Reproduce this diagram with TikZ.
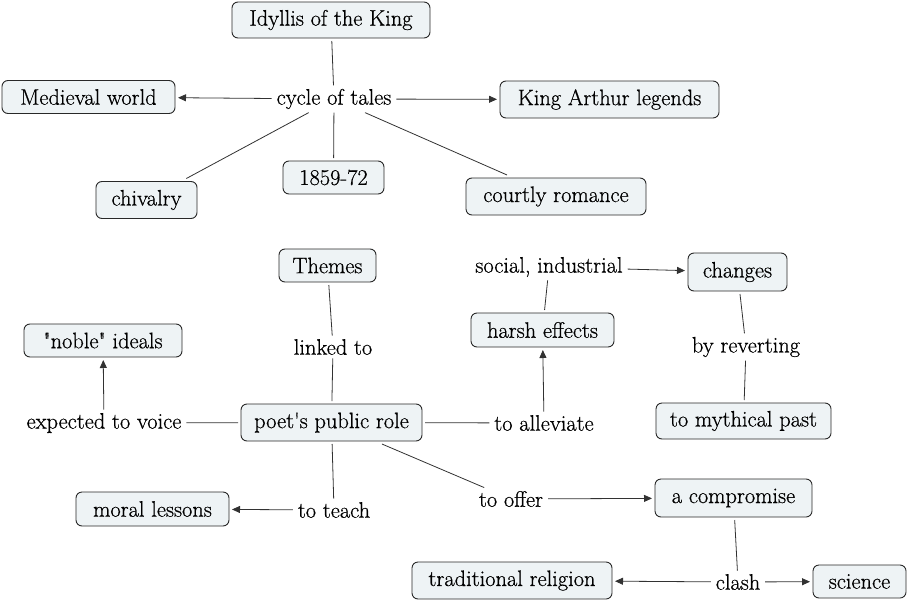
\documentclass[tikz,border=0pt]{standalone}
\usepackage{fontspec}
\setmainfont{Latin Modern Roman}[Ligatures=TeXOff, FakeBold=0.6]
\usetikzlibrary{arrows.meta}
\newcommand\myfs{\rmfamily\fontsize{22.4}{27}\selectfont}
\definecolor{boxfill}{RGB}{238,243,245}
\definecolor{boxline}{RGB}{40,40,40}
\definecolor{linkcol}{RGB}{50,50,50}
\tikzset{
  box/.style={draw=boxline, fill=boxfill, rounded corners=6pt, line width=0.9pt,
    minimum height=34pt, inner xsep=8pt, inner ysep=3pt, outer sep=3pt, font=\myfs},
  lbl/.style={inner xsep=3pt, inner ysep=1.5pt, outer sep=2pt, font=\myfs},
  conn/.style={draw=linkcol, line width=0.8pt},
  arr/.style={conn, -{Triangle[length=8pt,width=7pt]}}
}
\begin{document}
\begin{tikzpicture}[x=1pt,y=-1pt]
\useasboundingbox (0,0) rectangle (909,602);
% top cluster
\node[box, minimum width=198pt, minimum height=36pt] (idyll) at (331,20) {Idyllis of the King};
\node[lbl] (cycle) at (334,99) {cycle of tales};
\node[box, minimum width=173pt, minimum height=33pt] (medieval) at (88.5,97) {Medieval world};
\node[box, minimum width=219pt, minimum height=37pt] (arthur) at (609.5,99.5) {King Arthur legends};
\node[box, minimum width=101pt, minimum height=37pt] (chivalry) at (146.5,200) {chivalry};
\node[box, minimum width=101pt, minimum height=33pt] (year) at (333.5,177.5) {1859-72};
\node[box, minimum width=180pt, minimum height=37pt] (courtly) at (556,196.5) {courtly romance};
% lower cluster
\node[box, minimum width=97pt, minimum height=33pt] (themes) at (327.5,265.5) {Themes};
\node[lbl] (linked) at (333,347) {linked to};
\node[box, minimum width=181pt, minimum height=37pt] (poet) at (331.5,422.5) {poet's public role};
\node[box, minimum width=158pt, minimum height=33pt] (noble) at (103,340.5) {"noble" ideals};
\node[lbl] (expected) at (104,423) {expected to voice};
\node[box, minimum width=153pt, minimum height=34pt] (moral) at (152.5,509) {moral lessons};
\node[lbl] (teach) at (334,510) {to teach};
\node[lbl] (alleviate) at (544,423) {to alleviate};
\node[box, minimum width=143pt, minimum height=34pt] (harsh) at (542.5,330) {harsh effects};
\node[lbl] (social) at (549,267) {social, industrial};
\node[box, minimum width=99pt, minimum height=38pt] (changes) at (737.5,272) {changes};
\node[lbl] (revert) at (746,347) {by reverting};
\node[box, minimum width=175pt, minimum height=36pt] (mythical) at (743.5,421) {to mythical past};
\node[lbl] (offer) at (511,499) {to offer};
\node[box, minimum width=157pt, minimum height=38pt] (compromise) at (733.5,498) {a compromise};
\node[lbl] (clash) at (738,582) {clash};
\node[box, minimum width=200pt, minimum height=37pt] (religion) at (512,580.5) {traditional religion};
\node[box, minimum width=93pt, minimum height=33pt] (science) at (859.5,581.5) {science};
% connectors top
\draw[conn] (idyll) -- (cycle);
\draw[arr] (cycle) -- (medieval);
\draw[arr] (cycle) -- (arthur);
\draw[conn] (cycle) -- (chivalry);
\draw[conn] (cycle) -- (year);
\draw[conn] (cycle) -- (courtly);
% connectors bottom
\draw[conn] (themes) -- (linked);
\draw[conn] (linked) -- (poet);
\draw[conn] (poet) -- (expected);
\draw[arr] (expected) -- (noble);
\draw[conn] (poet) -- (teach);
\draw[arr] (teach) -- (moral);
\draw[conn] (poet) -- (alleviate);
\draw[arr] (alleviate) -- (harsh);
\draw[conn] (harsh) -- (social);
\draw[arr] (social) -- (changes);
\draw[conn] (changes) -- (revert);
\draw[conn] (revert) -- (mythical);
\draw[conn] (poet) -- (offer);
\draw[arr] (offer) -- (compromise);
\draw[conn] (compromise) -- (clash);
\draw[arr] (clash) -- (religion);
\draw[arr] (clash) -- (science);
\end{tikzpicture}
\end{document}
